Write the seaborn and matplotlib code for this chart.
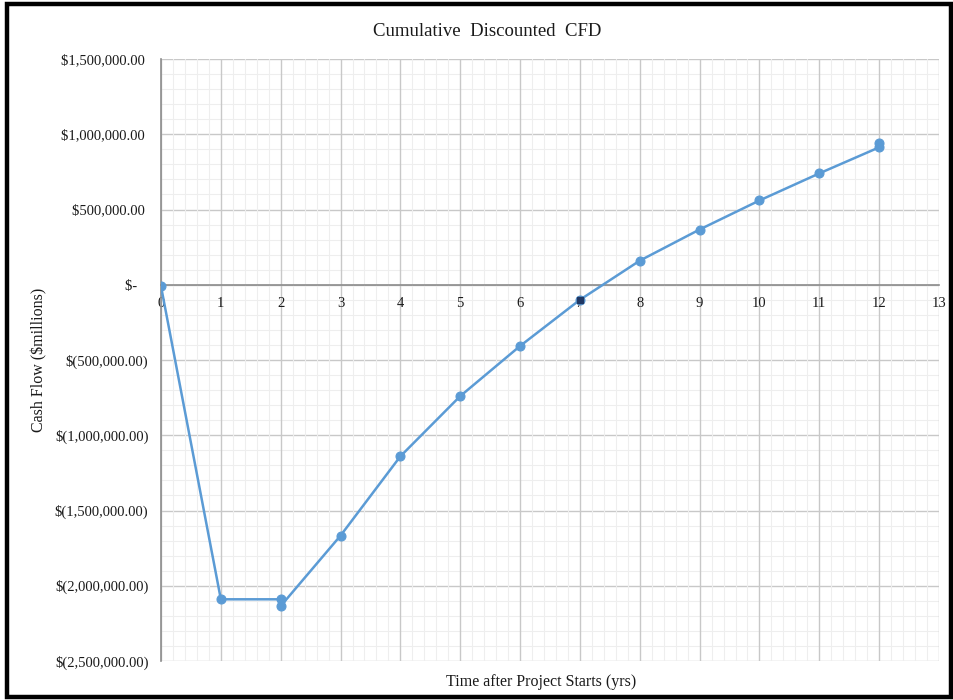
import matplotlib
matplotlib.use("Agg")
import matplotlib.pyplot as plt
from matplotlib.patches import Rectangle
from matplotlib.ticker import MultipleLocator, FuncFormatter
import seaborn as sns
import pandas as pd

# Cumulative discounted cash flow by project year
years = [0, 1, 2, 2, 3, 4, 5, 6, 7, 8, 9, 10, 11, 12, 12]
cum_cfd = [-10000, -2090000, -2090000, -2135000, -1667000, -1140000,
           -740000, -407000, -100000, 160000, 367000, 560000, 740000,
           913000, 940000]
# Year at which the curve is about to cross zero (highlighted point)
highlight_year = [7]
highlight_value = [-100000]

y_ticks = [1500000, 1000000, 500000, 0, -500000, -1000000,
           -1500000, -2000000, -2500000]
x_ticks = list(range(0, 14))

df = pd.DataFrame({"year": years, "cfd": cum_cfd})

sns.set_style("white")
plt.rcParams["font.family"] = ["Liberation Serif", "DejaVu Serif"]

fig = plt.figure(figsize=(9.54, 7.0), dpi=100)
ax = fig.add_axes([161 / 954, 1 - 661 / 700, (939 - 161) / 954, (661 - 59) / 700])

blue = "#5b9bd5"
sns.lineplot(data=df, x="year", y="cfd", ax=ax, estimator=None, sort=False,
             color=blue, linewidth=1.8, marker="o", markersize=6.5,
             markeredgecolor=blue, zorder=5)
ax.plot(highlight_year, highlight_value, marker="s", markersize=4,
        color="#203864", linestyle="none", zorder=6)

ax.set_xlim(0, 13)
ax.set_ylim(-2500000, 1500000)
ax.set_xticks(x_ticks)
ax.set_yticks(y_ticks)
ax.xaxis.set_minor_locator(MultipleLocator(0.2))
ax.yaxis.set_minor_locator(MultipleLocator(100000))


def money(v, pos=None):
    if abs(v) < 1:
        return "$-   "
    if v < 0:
        return "$({:,.2f})".format(-v)
    return "${:,.2f} ".format(v)


ax.yaxis.set_major_formatter(FuncFormatter(money))

ax.grid(which="major", color="#c8c8c8", linewidth=1.0)
ax.grid(which="minor", color="#eeeeee", linewidth=0.8)
ax.set_axisbelow(True)
# keep the year labels on top of the horizontal grid lines
ax.yaxis.set_zorder(0.4)
ax.xaxis.set_zorder(0.6)

# horizontal axis runs through zero, labels sit just below it
ax.spines["bottom"].set_position(("data", 0))
ax.spines["bottom"].set_color("#8c8c8c")
ax.spines["bottom"].set_linewidth(1.2)
ax.spines["left"].set_color("#8c8c8c")
ax.spines["left"].set_linewidth(1.2)
ax.spines["top"].set_visible(False)
ax.spines["right"].set_visible(False)

ax.tick_params(axis="x", length=0, pad=9, labelsize=10.5, colors="#1a1a1a")
ax.tick_params(axis="y", length=0, pad=9, labelsize=10.5, colors="#1a1a1a")
ax.set_xlabel("")
ax.set_ylabel("")

fig.text(541 / 954, 1 - 682 / 700, "Time after Project Starts (yrs)",
         ha="center", va="center", fontsize=11.5, color="#1a1a1a")
fig.text(39 / 954, 1 - 360 / 700, "Cash Flow ($millions)", rotation=90,
         ha="center", va="center", fontsize=11.5, color="#1a1a1a")
fig.text(487 / 954, 1 - 31 / 700, "Cumulative  Discounted  CFD",
         ha="center", va="center", fontsize=13.5, color="#1a1a1a")

fig.patches.append(Rectangle((7 / 954, 3 / 700), (951 - 7) / 954, (696 - 3) / 700,
                             transform=fig.transFigure, fill=False,
                             edgecolor="black", linewidth=3.2))

fig.savefig("out.png", dpi=100)
